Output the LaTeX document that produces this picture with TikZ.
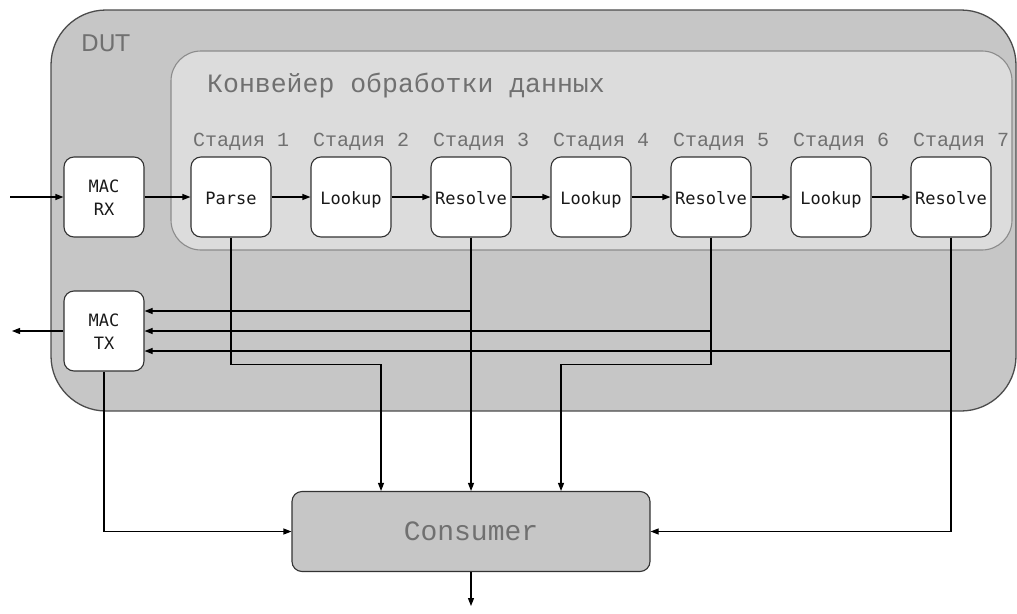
\documentclass[tikz,border=0pt]{standalone}
\usepackage{fontspec}
\usetikzlibrary{arrows.meta}
\newfontfamily\boxfont{DejaVu Sans Mono}
\newfontfamily\lmono{Liberation Mono}
\newfontfamily\dutfont{DejaVu Sans}
\definecolor{dutfill}{HTML}{C6C6C6}
\definecolor{pipefill}{HTML}{DCDCDC}
\definecolor{txtgray}{HTML}{707070}
\definecolor{edge}{HTML}{333333}
\newcommand{\bx}[1]{\smash{#1}\vrule width 0pt height 14pt depth 0pt\relax}
\tikzset{
  blk/.style={draw=edge, line width=1.1pt, fill=white, rounded corners=10pt,
    minimum width=80pt, minimum height=80pt, inner sep=0pt,
    font=\boxfont\fontsize{17}{23.5}\selectfont, align=center, text=black!90},
  stagelbl/.style={anchor=base west, inner sep=0pt, text=txtgray,
    font=\lmono\fontsize{20}{24}\selectfont},
  arr/.style={draw=black, line width=1.1pt, -{Triangle[length=8pt,width=6pt]}}
}
\begin{document}
\begin{tikzpicture}[x=1pt,y=-1pt]
\useasboundingbox (0,0) rectangle (1017,613);
% DUT
\draw[draw=black!70, line width=1.3pt, fill=dutfill, rounded corners=55pt] (51,10) rectangle (1016,411);
\node[anchor=base west, inner sep=0pt, text=txtgray, font=\dutfont\fontsize{23}{26}\selectfont] (dut) at (81,51) {DUT};
% pipeline
\draw[draw=black!45, line width=1.1pt, fill=pipefill, rounded corners=30pt] (171,51) rectangle (1012,250);
\node[anchor=base west, inner sep=0pt, text=txtgray, font=\lmono\fontsize{26.5}{30}\selectfont] (title) at (207,92) {Конвейер обработки данных};
% stage labels
\foreach \i in {1,...,7} {
  \node[stagelbl] (lbl\i) at ({193+120*(\i-1)},146) {Стадия \i};
}
% blocks
\node[blk] (macrx) at (104,197) {\bx{MAC}\\\bx{RX}};
\node[blk] (mactx) at (104,331) {\bx{MAC}\\\bx{TX}};
\node[blk] (s1) at (231,197) {\bx{Parse}};
\node[blk] (s2) at (351,197) {\bx{Lookup}};
\node[blk] (s3) at (471,197) {\bx{Resolve}};
\node[blk] (s4) at (591,197) {\bx{Lookup}};
\node[blk] (s5) at (711,197) {\bx{Resolve}};
\node[blk] (s6) at (831,197) {\bx{Lookup}};
\node[blk] (s7) at (951,197) {\bx{Resolve}};
% consumer
\node[draw=edge, line width=1.1pt, fill=dutfill, rounded corners=10pt,
  minimum width=358pt, minimum height=80pt, inner sep=0pt, text=txtgray,
  font=\lmono\fontsize{28}{32}\selectfont] (cons) at (471,531.5) {Consumer};
% coordinates
\coordinate (in) at (10,197);
\coordinate (out) at (12,331);
\coordinate (cout) at (471,606);
\coordinate (c1) at (381,0);
\coordinate (c2) at (561,0);
% connectors
\draw[arr] (in) -- (macrx);
\draw[arr] (macrx) -- (s1);
\draw[arr] (s1) -- (s2);
\draw[arr] (s2) -- (s3);
\draw[arr] (s3) -- (s4);
\draw[arr] (s4) -- (s5);
\draw[arr] (s5) -- (s6);
\draw[arr] (s6) -- (s7);
\draw[arr] (mactx.west) -- (out);
\draw[arr] (s3.south) |- ([yshift=20pt]mactx.east);
\draw[arr] (s5.south) |- (mactx.east);
\draw[arr] (s7.south) |- ([yshift=-20pt]mactx.east);
\draw[arr] (s3.south) -- (s3.south |- cons.north);
\draw[arr] (s1.south) -- ++(0,127) -| (c1 |- cons.north);
\draw[arr] (s5.south) -- ++(0,127) -| (c2 |- cons.north);
\draw[arr] (s7.south) |- (cons.east);
\draw[arr] (mactx.south) |- (cons.west);
\draw[arr] (cons.south) -- (cout);
\end{tikzpicture}
\end{document}
